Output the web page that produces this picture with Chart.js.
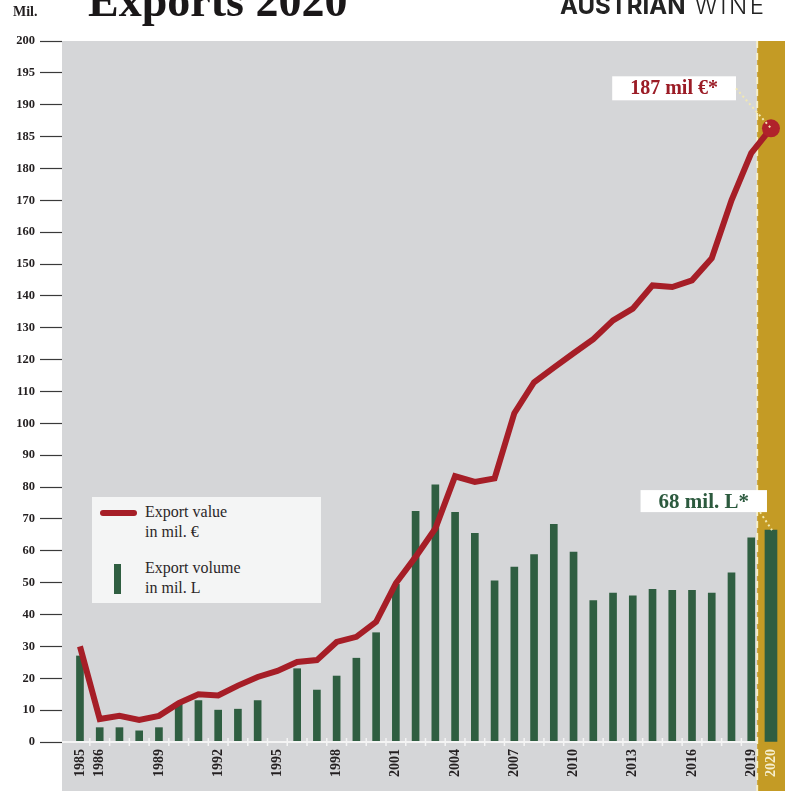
<!DOCTYPE html>
<html lang="en">
<head>
  <meta charset="UTF-8" />
  <title>Austrian Wine Exports 2020</title>
  <style>
    body {
      margin: 0;
      background: #fff;
      font-family: "Liberation Serif", "DejaVu Serif", serif;
    }
    #wrap {
      position: relative;
      width: 785px;
      height: 791px;
      overflow: hidden;
    }
    canvas {
      position: absolute;
      left: 0;
      top: 0;
    }
    .mil {
      position: absolute;
      left: 13px;
      top: 5px;
      font-size: 14px;
      line-height: 14px;
      font-weight: bold;
      color: #231f20;
    }
    .title {
      position: absolute;
      left: 88px;
      top: -22px;
      font-size: 46px;
      line-height: 46px;
      font-weight: bold;
      color: #1a1718;
      white-space: nowrap;
    }
    .brand {
      position: absolute;
      left: 560px;
      top: -6px;
      font-family: Inter, "Open Sans", sans-serif;
      font-size: 24px;
      line-height: 24px;
      color: #222;
      white-space: nowrap;
    }
    .brand b { font-weight: 700; }
    .brand span { font-weight: 300; letter-spacing: 2.5px; margin-left: 9px; }
    .legend {
      position: absolute;
      left: 92px;
      top: 497px;
      width: 229px;
      height: 106px;
      background: #f4f5f5;
      color: #2b2728;
      font-size: 16px;
      line-height: 20px;
    }
    .legend .txt {
      position: absolute;
      left: 53px;
      white-space: nowrap;
    }
    .legend .ln {
      position: absolute;
      left: 8px;
      top: 13px;
      width: 37px;
      height: 6px;
      border-radius: 3px;
      background: #a61e27;
    }
    .legend .bar {
      position: absolute;
      left: 22px;
      top: 67px;
      width: 7px;
      height: 30px;
      background: #2f5e41;
    }
  </style>
</head>
<body>
  <div id="wrap">
    <canvas id="chart" width="785" height="791"></canvas>
    <div class="mil">Mil.</div>
    <div class="title">Exports 2020</div>
    <div class="brand"><b>AUSTRIAN</b><span>WINE</span></div>
    <div class="legend">
      <div class="ln"></div>
      <div class="txt" style="top:5px">Export value<br>in mil. €</div>
      <div class="bar"></div>
      <div class="txt" style="top:61px">Export volume<br>in mil. L</div>
    </div>
  </div>

  <script src="https://cdn.jsdelivr.net/npm/chart.js"></script>
  <script>
    const years = [1985, 1986, 1987, 1988, 1989, 1990, 1991, 1992, 1993, 1994,
      1995, 1996, 1997, 1998, 1999, 2000, 2001, 2002, 2003, 2004,
      2005, 2006, 2007, 2008, 2009, 2010, 2011, 2012, 2013, 2014,
      2015, 2016, 2017, 2018, 2019, 2020];

    // export value, mil. EUR
    const exportValue = [30, 7.2, 8.2, 6.9, 8.2, 12.2, 15, 14.6, 17.7, 20.4,
      22.3, 25.1, 25.7, 31.4, 33, 37.7, 49.8, 58.1, 67, 83.4,
      81.6, 82.7, 103.2, 112.9, 117.5, 122, 126.4, 132.3, 136, 143.3,
      142.8, 144.9, 151.8, 170, 182.4, 186.3];

    // export volume, mil. litres (no bar for 1995)
    const exportVolume = [27, 4.5, 4.5, 3.5, 4.5, 12, 13, 10, 10.3, 13,
      null, 23, 16.3, 20.7, 26.3, 34.3, 49.5, 72.4, 80.7, 72.1,
      65.5, 50.6, 54.9, 58.8, 68.3, 59.6, 44.4, 46.7, 45.9, 47.9,
      47.6, 47.6, 46.7, 53.1, 64.1, 66.5];

    const xTickYears = [1985, 1986, 1989, 1992, 1995, 1998, 2001, 2004, 2007, 2010, 2013, 2016, 2019, 2020];
    const yTickLabels = [0, 10, 20, 30, 40, 50, 60, 70, 80, 90, 100, 110, 120, 130, 140, 150, 160, 170, 180, 185, 190, 195, 200];
    const callouts = ['187 mil €*', '68 mil. L*'];

    const SERIF = '"Liberation Serif", "DejaVu Serif", serif';
    const RED = '#a61e27';
    const GREEN = '#2f5e41';
    const GOLD = '#c49b25';
    const GRAY = '#d5d6d8';

    // the value axis is stretched above 180 (steps of 5 instead of 10)
    function toAxis(v) {
      if (v == null) return null;
      return v <= 180 ? v / 10 : 18 + (v - 180) / 5;
    }

    const last = years.length - 1;
    const bandStart = years[last] - 0.7;

    const linePoints = years.map((yr, i) => ({ x: yr, y: toAxis(exportValue[i]) }));
    const barPoints = years.slice(0, last).map((yr, i) => ({ x: yr, y: toAxis(exportVolume[i]) }));
    const lastBar = [{ x: years[last], y: toAxis(exportVolume[last]) }];

    const backdrop = {
      id: 'backdrop',
      beforeDraw(chart) {
        const { ctx, chartArea: a, scales: { x } } = chart;
        const bx = x.getPixelForValue(bandStart);
        ctx.save();
        ctx.fillStyle = GRAY;
        ctx.fillRect(a.left, a.top, bx - a.left, chart.height - a.top);
        ctx.fillStyle = GOLD;
        ctx.fillRect(bx, a.top, chart.width - bx, chart.height - a.top);
        ctx.restore();
      },
      beforeDatasetsDraw(chart) {
        const { ctx, chartArea: a, scales: { x } } = chart;
        const bx = x.getPixelForValue(bandStart);
        ctx.save();
        ctx.strokeStyle = '#f6efc9';
        ctx.lineWidth = 2;
        ctx.setLineDash([7, 5]);
        ctx.beginPath();
        ctx.moveTo(bx, a.top);
        ctx.lineTo(bx, chart.height);
        ctx.stroke();
        ctx.restore();
      },
      afterDatasetsDraw(chart) {
        const { ctx, scales: { x, y } } = chart;
        const bx = x.getPixelForValue(bandStart);
        const y0 = y.getPixelForValue(0);
        ctx.save();
        // white base line with small year ticks
        ctx.strokeStyle = '#f4f4f4';
        ctx.lineWidth = 2;
        ctx.beginPath();
        ctx.moveTo(chart.chartArea.left, y0);
        ctx.lineTo(bx, y0);
        ctx.stroke();
        ctx.lineWidth = 1.5;
        for (let i = 1; i < last; i++) {
          const tx = x.getPixelForValue(years[i] - 0.5);
          ctx.beginPath();
          ctx.moveTo(tx, y0 - 4);
          ctx.lineTo(tx, y0 + 4);
          ctx.stroke();
        }

        // callouts
        const px = x.getPixelForValue(years[last]);
        const pv = y.getPixelForValue(toAxis(exportValue[last]));
        const pb = y.getPixelForValue(toAxis(exportVolume[last]));

        ctx.font = 'bold 20px ' + SERIF;
        let w = ctx.measureText(callouts[0]).width + 36;
        let right = px - 35, cy = pv - 40, h = 24;
        ctx.fillStyle = '#ffffff';
        ctx.fillRect(right - w, cy - h / 2, w, h);
        ctx.fillStyle = '#9b1c26';
        ctx.textAlign = 'center';
        ctx.textBaseline = 'middle';
        ctx.fillText(callouts[0], right - w / 2, cy + 1);
        ctx.strokeStyle = '#f3e9b0';
        ctx.lineWidth = 2;
        ctx.setLineDash([2, 3]);
        ctx.beginPath();
        ctx.moveTo(right, cy);
        ctx.lineTo(px, pv);
        ctx.stroke();

        ctx.setLineDash([]);
        ctx.font = 'bold 21px ' + SERIF;
        w = ctx.measureText(callouts[1]).width + 36;
        right = px - 4; cy = pb - 29; h = 22;
        ctx.fillStyle = '#ffffff';
        ctx.fillRect(right - w, cy - h / 2, w, h);
        ctx.fillStyle = '#2c5a3e';
        ctx.fillText(callouts[1], right - w / 2, cy + 1);
        ctx.strokeStyle = '#f3e9b0';
        ctx.setLineDash([2, 3]);
        ctx.beginPath();
        ctx.moveTo(right - 7, cy + h / 2);
        ctx.lineTo(px + 1, pb);
        ctx.stroke();
        ctx.restore();
      }
    };

    new Chart(document.getElementById('chart'), {
      data: {
        datasets: [
          {
            type: 'line',
            label: 'Export value in mil. €',
            data: linePoints,
            borderColor: RED,
            borderWidth: 6,
            pointRadius: ctx => ctx.dataIndex === last ? 9 : 0,
            pointBackgroundColor: '#b0222b',
            pointBorderWidth: 0,
            tension: 0,
            clip: false,
            order: 0
          },
          {
            type: 'bar',
            label: 'Export volume in mil. L',
            data: barPoints,
            backgroundColor: GREEN,
            barThickness: 7,
            grouped: false,
            order: 1
          },
          {
            type: 'bar',
            label: 'Export volume 2020',
            data: lastBar,
            backgroundColor: GREEN,
            barThickness: 12,
            grouped: false,
            order: 1
          }
        ]
      },
      options: {
        responsive: false,
        animation: false,
        layout: { autoPadding: false, padding: { top: 41, left: 0, right: 0, bottom: 0 } },
        plugins: {
          legend: { display: false },
          tooltip: { enabled: false }
        },
        scales: {
          x: {
            type: 'linear',
            offset: false,
            min: 1984.09,
            max: 2020.71,
            afterBuildTicks: s => { s.ticks = xTickYears.map(v => ({ value: v })); },
            afterFit: s => { s.height = 49; s.paddingLeft = 0; s.paddingRight = 0; },
            grid: { display: false, drawTicks: false, tickLength: 0 },
            border: { display: false },
            ticks: {
              autoSkip: false,
              minRotation: 90,
              maxRotation: 90,
              padding: 7,
              font: { family: SERIF, size: 14, weight: 'bold' },
              color: ctx => ctx.tick && ctx.tick.value === 2020 ? '#f6efcf' : '#231f20',
              callback: v => String(v)
            }
          },
          y: {
            type: 'linear',
            min: 0,
            max: 22,
            afterBuildTicks: s => { s.ticks = yTickLabels.map(v => ({ value: toAxis(v) })); },
            afterFit: s => { s.width = 62; },
            grid: { drawOnChartArea: false, tickLength: 22, tickColor: '#3a3a3a', tickWidth: 1.2 },
            border: { display: false },
            ticks: {
              padding: 5,
              font: { family: SERIF, size: 12.5, weight: 'bold' },
              color: '#231f20',
              callback: v => {
                const lab = yTickLabels.find(t => Math.abs(toAxis(t) - v) < 1e-6);
                return lab == null ? '' : String(lab);
              }
            }
          }
        }
      },
      plugins: [backdrop]
    });
  </script>
</body>
</html>
